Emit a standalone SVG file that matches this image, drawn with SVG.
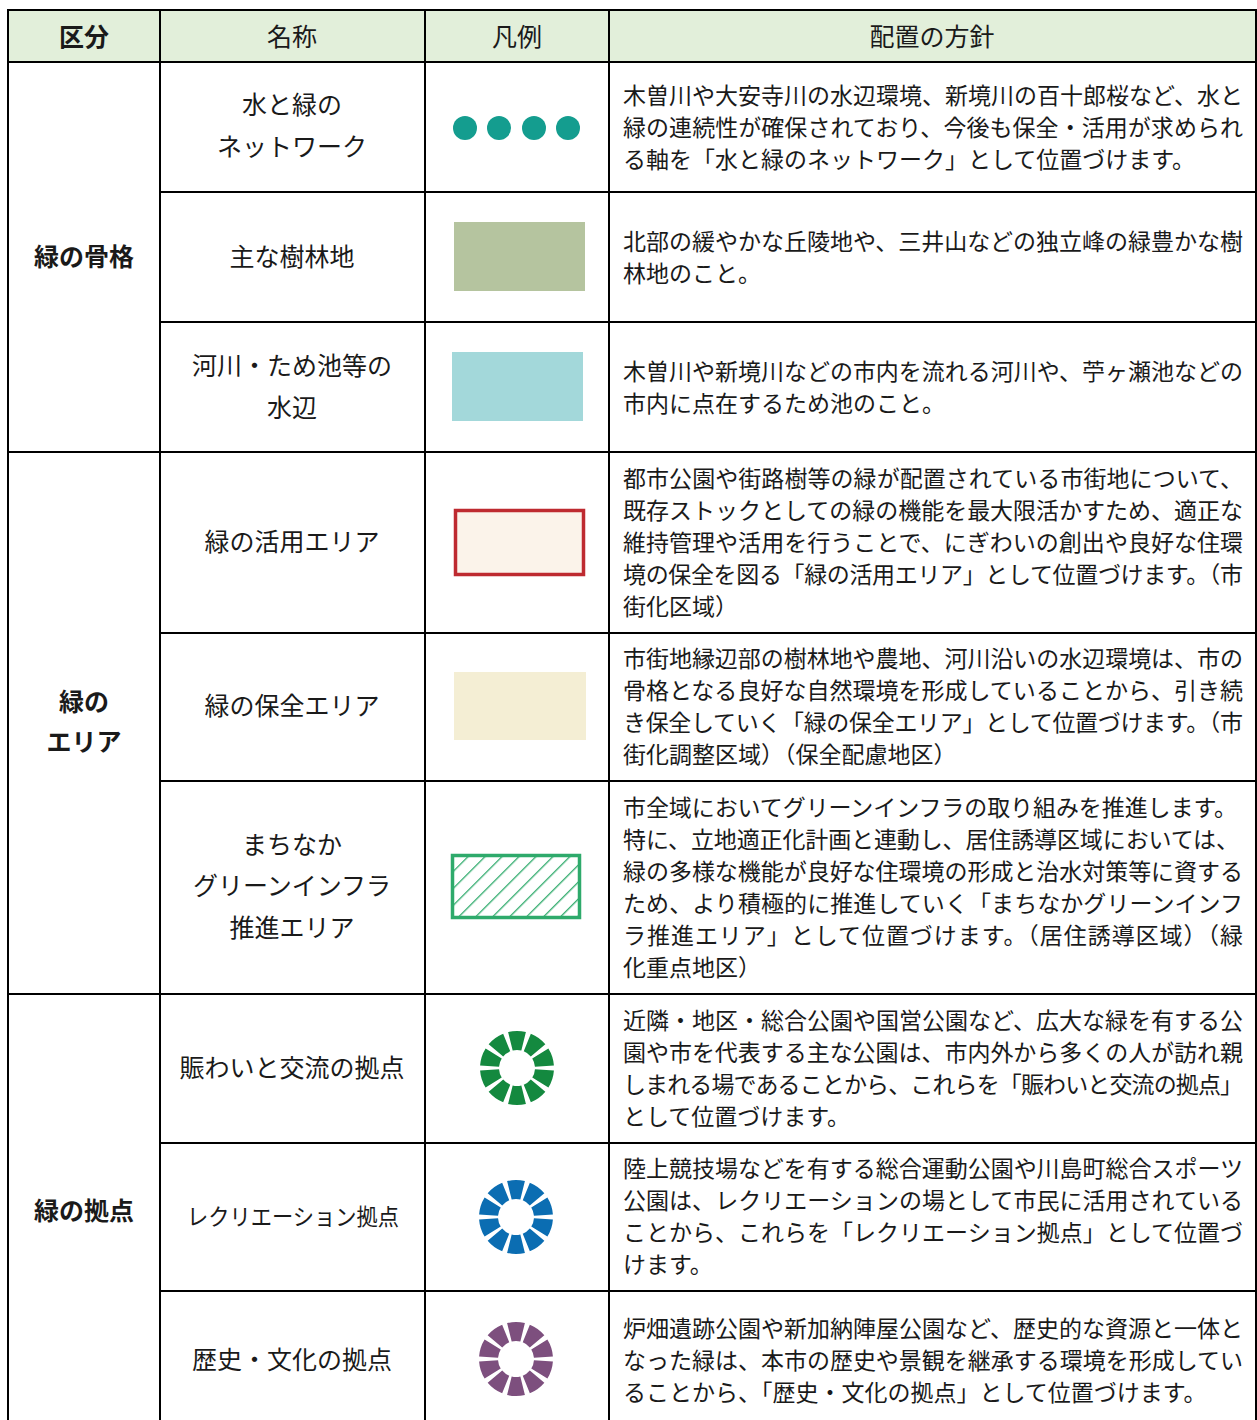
<svg xmlns="http://www.w3.org/2000/svg" width="1257" height="1420" viewBox="0 0 1257 1420">
<style>
text{font-family:"Noto Sans CJK JP","Noto Sans",sans-serif;fill:#1a1a1a;dominant-baseline:central;transform:translateY(-2px)}
.h{font-size:25px;text-anchor:middle}
.cat{font-size:25px;font-weight:700;text-anchor:middle}
.nm{font-size:25px;text-anchor:middle}
.d{font-size:23px}
.grid line{stroke:#000;stroke-width:2}
.ring{fill:none;stroke-width:19}
</style>
<defs>
<pattern id="hatch" patternUnits="userSpaceOnUse" width="12" height="12" patternTransform="rotate(45)">
<line x1="0" y1="0" x2="0" y2="12" stroke="#2eaa6b" stroke-width="2.6"/>
</pattern>
</defs>
<rect x="8" y="10" width="1248" height="52" fill="#e2efda"/>
<g id="header">
<text class="cat" x="84" y="37">区分</text>
<text class="h" x="292" y="37">名称</text>
<text class="h" x="517" y="37">凡例</text>
<text class="h" x="932" y="37">配置の方針</text>
</g>
<g id="categories">
<text class="cat" x="84" y="257">緑の骨格</text>
<text class="cat" x="84" y="702">緑の</text>
<text class="cat" x="84" y="742">エリア</text>
<text class="cat" x="84" y="1211">緑の拠点</text>
</g>
<g id="row1">
<text class="nm" x="292" y="105">水と緑の</text>
<text class="nm" x="292" y="147">ネットワーク</text>
<g fill="#149d8f"><circle cx="465" cy="128" r="12"/><circle cx="499" cy="128" r="12"/><circle cx="534" cy="128" r="12"/><circle cx="568" cy="128" r="12"/></g>
<text class="d" x="623" y="96" textLength="620" lengthAdjust="spacing">木曽川や大安寺川の水辺環境、新境川の百十郎桜など、水と</text>
<text class="d" x="623" y="128" textLength="620" lengthAdjust="spacing">緑の連続性が確保されており、今後も保全・活用が求められ</text>
<text class="d" x="623" y="160">る軸を「水と緑のネットワーク」として位置づけます。</text>
</g>
<g id="row2">
<text class="nm" x="292" y="257">主な樹林地</text>
<rect x="454" y="222" width="131" height="69" fill="#b5c49f"/>
<text class="d" x="623" y="242" textLength="620" lengthAdjust="spacing">北部の緩やかな丘陵地や、三井山などの独立峰の緑豊かな樹</text>
<text class="d" x="623" y="274">林地のこと。</text>
</g>
<g id="row3">
<text class="nm" x="292" y="366">河川・ため池等の</text>
<text class="nm" x="292" y="408">水辺</text>
<rect x="452" y="352" width="131" height="69" fill="#a3d8da"/>
<text class="d" x="623" y="372" textLength="620" lengthAdjust="spacing">木曽川や新境川などの市内を流れる河川や、苧ヶ瀬池などの</text>
<text class="d" x="623" y="404">市内に点在するため池のこと。</text>
</g>
<g id="row4">
<text class="nm" x="292" y="542">緑の活用エリア</text>
<rect x="455.5" y="510.5" width="128" height="64" fill="#fbf3ea" stroke="#be2a30" stroke-width="3.5"/>
<text class="d" x="623" y="479" textLength="620" lengthAdjust="spacing">都市公園や街路樹等の緑が配置されている市街地について、</text>
<text class="d" x="623" y="511" textLength="620" lengthAdjust="spacing">既存ストックとしての緑の機能を最大限活かすため、適正な</text>
<text class="d" x="623" y="543" textLength="620" lengthAdjust="spacing">維持管理や活用を行うことで、にぎわいの創出や良好な住環</text>
<text class="d" x="623" y="575" textLength="620" lengthAdjust="spacing">境の保全を図る「緑の活用エリア」として位置づけます。（市</text>
<text class="d" x="623" y="607">街化区域）</text>
</g>
<g id="row5">
<text class="nm" x="292" y="706">緑の保全エリア</text>
<rect x="454" y="672" width="132" height="68" fill="#f4eed4"/>
<text class="d" x="623" y="659" textLength="620" lengthAdjust="spacing">市街地縁辺部の樹林地や農地、河川沿いの水辺環境は、市の</text>
<text class="d" x="623" y="691" textLength="620" lengthAdjust="spacing">骨格となる良好な自然環境を形成していることから、引き続</text>
<text class="d" x="623" y="723" textLength="620" lengthAdjust="spacing">き保全していく「緑の保全エリア」として位置づけます。（市</text>
<text class="d" x="623" y="755">街化調整区域）（保全配慮地区）</text>
</g>
<g id="row6">
<text class="nm" x="292" y="845">まちなか</text>
<text class="nm" x="292" y="886">グリーンインフラ</text>
<text class="nm" x="292" y="928">推進エリア</text>
<rect x="452.5" y="855.5" width="127" height="62" fill="url(#hatch)" stroke="#2eaa6b" stroke-width="3.5"/>
<text class="d" x="623" y="808" textLength="614" lengthAdjust="spacing">市全域においてグリーンインフラの取り組みを推進します。</text>
<text class="d" x="623" y="840" textLength="616" lengthAdjust="spacing">特に、立地適正化計画と連動し、居住誘導区域においては、</text>
<text class="d" x="623" y="872" textLength="620" lengthAdjust="spacing">緑の多様な機能が良好な住環境の形成と治水対策等に資する</text>
<text class="d" x="623" y="904" textLength="620" lengthAdjust="spacing">ため、より積極的に推進していく「まちなかグリーンインフ</text>
<text class="d" x="623" y="936" textLength="620" lengthAdjust="spacing">ラ推進エリア」として位置づけます。（居住誘導区域）（緑</text>
<text class="d" x="623" y="968">化重点地区）</text>
</g>
<g id="row7">
<text class="nm" x="292" y="1068">賑わいと交流の拠点</text>
<circle class="ring" cx="517" cy="1068" r="27.5" stroke="#14893f" pathLength="360" stroke-dasharray="28 8" stroke-dashoffset="32"/>
<text class="d" x="623" y="1021" textLength="620" lengthAdjust="spacing">近隣・地区・総合公園や国営公園など、広大な緑を有する公</text>
<text class="d" x="623" y="1053" textLength="620" lengthAdjust="spacing">園や市を代表する主な公園は、市内外から多くの人が訪れ親</text>
<text class="d" x="623" y="1085" textLength="620" lengthAdjust="spacing">しまれる場であることから、これらを「賑わいと交流の拠点」</text>
<text class="d" x="623" y="1117">として位置づけます。</text>
</g>
<g id="row8">
<text class="nm" x="293" y="1217" style="font-size:23px" textLength="212" lengthAdjust="spacingAndGlyphs">レクリエーション拠点</text>
<circle class="ring" cx="516" cy="1217" r="27.5" stroke="#0b6db2" pathLength="360" stroke-dasharray="28 8" stroke-dashoffset="32"/>
<text class="d" x="623" y="1169" textLength="620" lengthAdjust="spacing">陸上競技場などを有する総合運動公園や川島町総合スポーツ</text>
<text class="d" x="623" y="1201" textLength="620" lengthAdjust="spacing">公園は、レクリエーションの場として市民に活用されている</text>
<text class="d" x="623" y="1233" textLength="620" lengthAdjust="spacing">ことから、これらを「レクリエーション拠点」として位置づ</text>
<text class="d" x="623" y="1265">けます。</text>
</g>
<g id="row9">
<text class="nm" x="292" y="1360">歴史・文化の拠点</text>
<circle class="ring" cx="516" cy="1359" r="27.5" stroke="#7d4f7e" pathLength="360" stroke-dasharray="28 8" stroke-dashoffset="32"/>
<text class="d" x="623" y="1329" textLength="620" lengthAdjust="spacing">炉畑遺跡公園や新加納陣屋公園など、歴史的な資源と一体と</text>
<text class="d" x="623" y="1361" textLength="620" lengthAdjust="spacing">なった緑は、本市の歴史や景観を継承する環境を形成してい</text>
<text class="d" x="623" y="1393">ることから、「歴史・文化の拠点」として位置づけます。</text>
</g>
<g id="connectors" class="grid">
<line x1="7" y1="10" x2="1257" y2="10"/>
<line x1="7" y1="62" x2="1257" y2="62"/>
<line x1="160" y1="192" x2="1257" y2="192"/>
<line x1="160" y1="322" x2="1257" y2="322"/>
<line x1="7" y1="452" x2="1257" y2="452"/>
<line x1="160" y1="633" x2="1257" y2="633"/>
<line x1="160" y1="781" x2="1257" y2="781"/>
<line x1="7" y1="994" x2="1257" y2="994"/>
<line x1="160" y1="1143" x2="1257" y2="1143"/>
<line x1="160" y1="1291" x2="1257" y2="1291"/>
<line x1="8" y1="9" x2="8" y2="1420"/>
<line x1="160" y1="9" x2="160" y2="1420"/>
<line x1="425" y1="9" x2="425" y2="1420"/>
<line x1="609" y1="9" x2="609" y2="1420"/>
<line x1="1256" y1="9" x2="1256" y2="1420"/>
</g>
</svg>
